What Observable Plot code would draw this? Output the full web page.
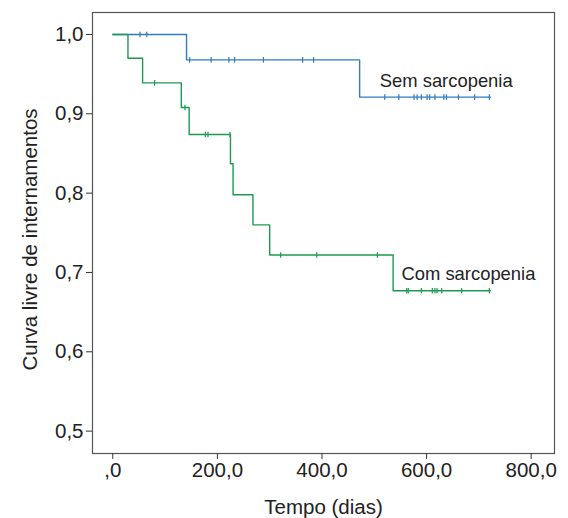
<!DOCTYPE html>
<html>
<head>
<meta charset="utf-8">
<script src="https://cdn.jsdelivr.net/npm/d3@7"></script>
<script src="https://cdn.jsdelivr.net/npm/@observablehq/plot@0.6"></script>
<style>
  body { margin: 0; background: #fff; }
  #chart svg { display: block; }
</style>
</head>
<body>
<div id="chart"></div>
<script>
// Kaplan–Meier curves: hospital-admission-free survival by sarcopenia status
const seriesNames = ["Sem sarcopenia", "Com sarcopenia"];

// Without sarcopenia: event times (days) and survival after each step
const semTimes = [0, 141, 472];
const semSurv = [1.0, 0.968, 0.921];
const semEnd = 722;
const semCensored = [52, 65, 147, 188, 222, 233, 288, 363, 384, 520, 547, 576, 582, 590, 601, 606, 616, 633, 638, 661, 692, 720];

// With sarcopenia
const comTimes = [0, 29, 57, 131, 146, 225, 230, 268, 300, 536];
const comSurv = [1.0, 0.970, 0.939, 0.908, 0.874, 0.837, 0.798, 0.760, 0.722, 0.677];
const comEnd = 722;
const comCensored = [80, 138, 177, 182, 224, 321, 390, 506, 562, 565, 590, 611, 616, 620, 629, 667, 720];

// Axis ticks and their labels
const xTicks = [0, 200, 400, 600, 800];
const xTickLabels = [",0", "200,0", "400,0", "600,0", "800,0"];
const yTicks = [0.5, 0.6, 0.7, 0.8, 0.9, 1.0];
const yTickLabels = ["0,5", "0,6", "0,7", "0,8", "0,9", "1,0"];

const colors = {"Sem sarcopenia": "#2f7cc0", "Com sarcopenia": "#1c9a50"};

function stepRows(name, times, surv, end) {
  const rows = times.map((t, i) => ({series: name, t, s: surv[i]}));
  rows.push({series: name, t: end, s: surv[surv.length - 1]});
  return rows;
}
function survAt(times, surv, t) {
  let s = surv[0];
  for (let i = 0; i < times.length; ++i) if (times[i] <= t) s = surv[i];
  return s;
}
function censorRows(name, times, surv, cens) {
  return cens.map(t => ({series: name, t, s: survAt(times, surv, t)}));
}

const steps = [
  ...stepRows(seriesNames[0], semTimes, semSurv, semEnd),
  ...stepRows(seriesNames[1], comTimes, comSurv, comEnd)
];
const censors = [
  ...censorRows(seriesNames[0], semTimes, semSurv, semCensored),
  ...censorRows(seriesNames[1], comTimes, comSurv, comCensored)
];

// small vertical bar used for censored observations
const censorBar = {
  draw(ctx, size) {
    const h = Math.sqrt(size / Math.PI);
    ctx.moveTo(0, -h);
    ctx.lineTo(0, h);
  }
};

const font = "'Liberation Sans', Arial, Helvetica, sans-serif";

const chart = Plot.plot({
  width: 568,
  height: 518,
  marginLeft: 92,
  marginRight: 14,
  marginTop: 12,
  marginBottom: 65,
  style: {fontFamily: font, color: "#222", background: "#fff", overflow: "visible"},
  x: {domain: [-38.8, 844.6]},
  y: {domain: [0.4718, 1.0277]},
  marks: [
    Plot.frame({stroke: "#555", strokeWidth: 1.2}),
    Plot.axisX({
      ticks: xTicks,
      tickFormat: d => xTickLabels[xTicks.indexOf(d)],
      tickSize: 6, tickPadding: 3, fontSize: 20.5,
      stroke: "#333", fill: "#222", label: null
    }),
    Plot.axisY({
      ticks: yTicks,
      tickFormat: d => yTickLabels[yTicks.indexOf(d)],
      tickSize: 6, tickPadding: 3, fontSize: 20.5,
      stroke: "#333", fill: "#222", label: null
    }),
    Plot.line(steps, {
      x: "t", y: "s", z: "series",
      stroke: d => colors[d.series],
      curve: "step-after", strokeWidth: 1.4
    }),
    Plot.dot(censors, {
      x: "t", y: "s",
      symbol: censorBar, r: 2.8, fill: "none",
      stroke: d => colors[d.series], strokeWidth: 1.2
    }),
    Plot.text([seriesNames[0]], {
      x: 510.5, y: 0.9332, textAnchor: "start", lineAnchor: "bottom",
      fontSize: 18.4, fill: "#222"
    }),
    Plot.text([seriesNames[1]], {
      x: 552, y: 0.6899, textAnchor: "start", lineAnchor: "bottom",
      fontSize: 18.4, fill: "#222"
    }),
    Plot.text(["Tempo (dias)"], {
      frameAnchor: "bottom", textAnchor: "middle", lineAnchor: "bottom", dy: 60,
      fontSize: 20.5, fill: "#222"
    }),
    Plot.text(["Curva livre de internamentos"], {
      frameAnchor: "left", textAnchor: "middle", lineAnchor: "middle", rotate: -90,
      dx: -62, dy: 6.5, fontSize: 20.5, fill: "#222"
    })
  ]
});

document.getElementById("chart").appendChild(chart);
</script>
</body>
</html>
